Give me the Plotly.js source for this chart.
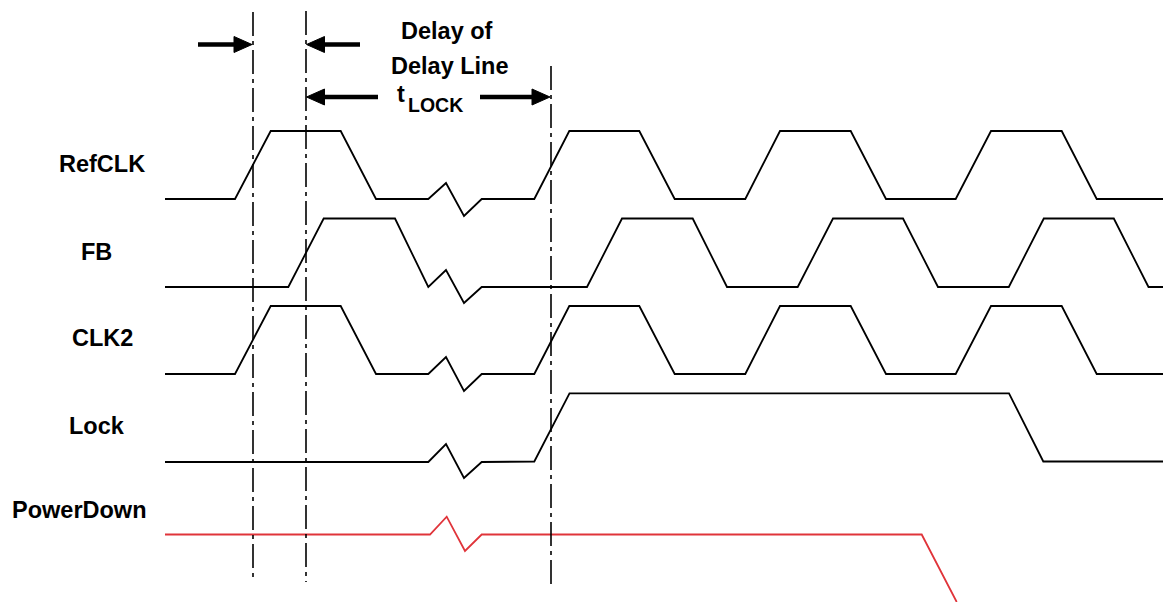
<!DOCTYPE html>
<html>
<head>
<meta charset="utf-8">
<script src="https://cdn.plot.ly/plotly-3.0.1.min.js"></script>
<style>html,body{margin:0;padding:0;background:#fff;}#chart{width:1163px;height:602px;}</style>
</head>
<body>
<div id="chart"></div>
<script>
// Waveform data (time axis in drawing units, level axis in drawing units)
const refclkX = [165, 235, 270.7, 340.7, 376, 428.3, 446, 464, 481.7, 534.3, 569.3, 639.3, 674.7, 745.3, 780, 850.7, 886, 955.7, 991, 1061.7, 1096.7, 1163];
const refclkY = [199, 199, 131, 131, 199, 199, 183, 216, 199, 199, 131, 131, 199, 199, 131, 131, 199, 199, 131, 131, 199, 199];

const fbX = [165, 288.3, 323.7, 395, 428.3, 446, 464, 481.7, 587, 622, 692.7, 727, 797.7, 833, 903, 938, 1008.8, 1043.8, 1113.8, 1148.5, 1163];
const fbY = [287, 287, 218.5, 218.5, 287, 270, 303, 287, 287, 218.5, 218.5, 287, 287, 218.5, 218.5, 287, 287, 218.5, 218.5, 287, 287];

const clk2X = [165, 235, 270.7, 340.7, 376, 428.3, 446, 464, 481.7, 534.3, 569.3, 639.3, 674.7, 745.3, 780, 850.7, 886, 955.7, 991, 1061.7, 1096.7, 1163];
const clk2Y = [374, 374, 306, 306, 374, 374, 357, 391, 374, 374, 306, 306, 374, 374, 306, 306, 374, 374, 306, 306, 374, 374];

const lockX = [165, 428.3, 446, 464, 481.7, 534.3, 569.5, 1009, 1043.3, 1163];
const lockY = [462, 462, 444, 478, 462, 461.5, 393.3, 393.3, 461.5, 461.5];

const pdX = [165, 430, 446.7, 465, 481.7, 921.7, 956.7];
const pdY = [534.5, 534.5, 516.7, 551, 534.5, 534.5, 602];

const signalNames = ["RefCLK", "FB", "CLK2", "Lock", "PowerDown"];
const signalLabelX = [57, 79, 70, 67, 10];
const signalLabelY = [164, 252, 338, 426, 510];

// Vertical timing markers
const markerX = [253, 306, 551];
const markerTop = [12, 11, 66];
const markerBottom = [582, 582, 586];

// Arrows: [tailX, tipX, y]
const arrowTail = [198, 360, 378, 480];
const arrowTip = [252, 306.5, 306.5, 550];
const arrowY = [44.5, 44.5, 97, 97];

const noteText = ["Delay of", "Delay Line"];
const noteX = [447, 449.5];
const noteY = [31, 65.5];

const FONT = "Liberation Sans, Arial, Helvetica, sans-serif";
const FSIZE = 23.5;

const traces = [];
const waves = [[refclkX, refclkY, "#000"], [fbX, fbY, "#000"], [clk2X, clk2Y, "#000"], [lockX, lockY, "#000"], [pdX, pdY, "#e0343a"]];
waves.forEach((w, i) => {
  traces.push({x: w[0], y: w[1], mode: "lines", type: "scatter", name: signalNames[i],
    line: {color: w[2], width: 1.8}, hoverinfo: "skip", cliponaxis: false});
});
markerX.forEach((mx, i) => {
  traces.push({x: [mx, mx], y: [markerTop[i], markerBottom[i]], mode: "lines", type: "scatter",
    line: {color: "#000", width: 1.6, dash: "24px,5px,4px,5px"}, hoverinfo: "skip"});
});

const shapes = [];
arrowTail.forEach((t, i) => {
  const tip = arrowTip[i], y = arrowY[i];
  const dir = tip > t ? 1 : -1;
  const headLen = 18, half = 8;
  const base = tip - dir * headLen;
  shapes.push({type: "line", xref: "x", yref: "y", x0: t, x1: base + dir * 1, y0: y, y1: y,
    line: {color: "#000", width: 4.5}});
  shapes.push({type: "path", xref: "x", yref: "y",
    path: `M ${tip} ${y} L ${base} ${y - half} L ${base} ${y + half} Z`,
    fillcolor: "#000", line: {color: "#000", width: 1}});
});

const annotations = [];
signalNames.forEach((n, i) => {
  annotations.push({x: signalLabelX[i], y: signalLabelY[i], xref: "x", yref: "y", text: "<b>" + n + "</b>",
    showarrow: false, xanchor: "left", yanchor: "middle", font: {family: FONT, size: FSIZE, color: "#000"}});
});
noteText.forEach((t, i) => {
  annotations.push({x: noteX[i], y: noteY[i], xref: "x", yref: "y", text: "<b>" + t + "</b>",
    showarrow: false, xanchor: "center", yanchor: "middle", font: {family: FONT, size: FSIZE, color: "#000"}});
});
annotations.push({x: 395, y: 94, xref: "x", yref: "y", text: "<b>t</b>", showarrow: false,
  xanchor: "left", yanchor: "middle", font: {family: FONT, size: FSIZE, color: "#000"}});
annotations.push({x: 406, y: 105, xref: "x", yref: "y", text: "<b>LOCK</b>", showarrow: false,
  xanchor: "left", yanchor: "middle", font: {family: FONT, size: 19.5, color: "#000"}});

const layout = {
  width: 1163, height: 602, autosize: false,
  margin: {l: 0, r: 0, t: 0, b: 0, pad: 0},
  paper_bgcolor: "#fff", plot_bgcolor: "#fff",
  showlegend: false,
  xaxis: {range: [0, 1163], visible: false, fixedrange: true},
  yaxis: {range: [602, 0], visible: false, fixedrange: true},
  shapes: shapes, annotations: annotations
};
Plotly.newPlot("chart", traces, layout, {staticPlot: true, displayModeBar: false});
</script>
</body>
</html>
